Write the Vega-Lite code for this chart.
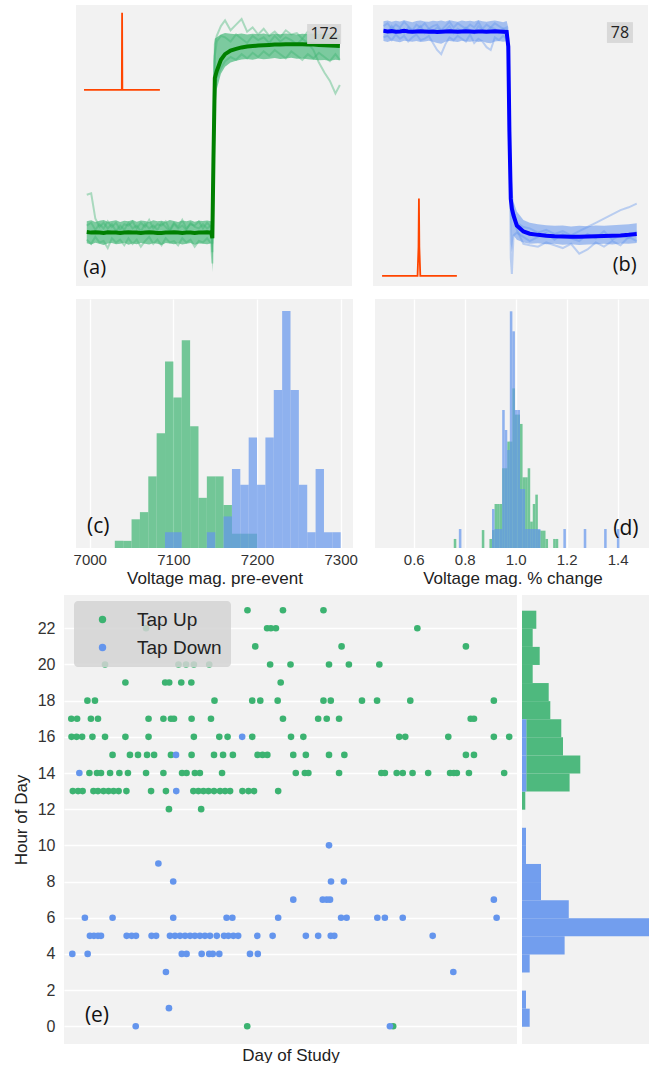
{
"$schema": "https://vega.github.io/schema/vega-lite/v6.json",
"background": "white",
"padding": {"left": 12, "top": 5, "right": 0, "bottom": 0},
"config": {
  "view": {"stroke": null, "fill": "#f2f2f2"},
  "font": "Liberation Sans",
  "axis": {"labelFont": "Liberation Sans", "titleFont": "Liberation Sans", "titleFontWeight": "normal", "labelColor": "#333333", "titleColor": "#222222", "gridColor": "#ffffff", "gridWidth": 1.3, "ticks": false, "domain": false}
},
"datasets": {
"a": [
{"x":3.9,"m":19.2,"lo":15.2,"hi":23.0,"t1":32.5,"t2":16.5,"t3":21.5},
{"x":5.5,"m":19.0,"lo":14.8,"hi":23.4,"t1":33.0,"t2":15.0,"t3":22.5},
{"x":7.0,"m":19.1,"lo":15.4,"hi":22.8,"t1":24.0,"t2":17.5,"t3":20.0},
{"x":8.5,"m":19.0,"lo":15.0,"hi":23.2,"t1":21.0,"t2":15.5,"t3":22.0},
{"x":10,"m":18.9,"lo":14.6,"hi":23.5,"t1":22.5,"t2":16.0,"t3":20.5},
{"x":11.5,"m":19.1,"lo":15.1,"hi":22.9,"t1":20.5,"t2":13.5,"t3":23.0},
{"x":13,"m":19.0,"lo":15.3,"hi":23.1,"t1":22.0,"t2":17.0,"t3":21.0},
{"x":14.5,"m":19.0,"lo":14.9,"hi":23.4,"t1":19.5,"t2":15.5,"t3":22.5},
{"x":16,"m":18.9,"lo":15.0,"hi":22.8,"t1":21.5,"t2":16.5,"t3":20.0},
{"x":17.5,"m":19.0,"lo":15.4,"hi":23.2,"t1":20.0,"t2":14.5,"t3":22.0},
{"x":19,"m":19.1,"lo":14.7,"hi":23.0,"t1":22.5,"t2":17.0,"t3":21.5},
{"x":20.5,"m":19.0,"lo":15.1,"hi":23.5,"t1":20.5,"t2":15.0,"t3":23.0},
{"x":22,"m":19.0,"lo":14.9,"hi":22.9,"t1":21.5,"t2":16.5,"t3":20.5},
{"x":23.5,"m":18.9,"lo":15.3,"hi":23.3,"t1":19.5,"t2":14.0,"t3":22.5},
{"x":25,"m":19.0,"lo":15.0,"hi":23.1,"t1":22.0,"t2":16.0,"t3":21.0},
{"x":26.5,"m":19.1,"lo":14.8,"hi":22.8,"t1":20.5,"t2":17.5,"t3":23.5},
{"x":28,"m":19.0,"lo":15.2,"hi":23.4,"t1":21.5,"t2":15.0,"t3":20.5},
{"x":29.5,"m":18.9,"lo":15.0,"hi":23.0,"t1":20.0,"t2":16.5,"t3":22.0},
{"x":31,"m":18.9,"lo":14.6,"hi":23.2,"t1":22.5,"t2":14.5,"t3":21.5},
{"x":32.5,"m":19.0,"lo":15.3,"hi":22.9,"t1":21.0,"t2":17.0,"t3":23.0},
{"x":34,"m":19.0,"lo":15.1,"hi":23.5,"t1":19.5,"t2":15.5,"t3":20.0},
{"x":35.5,"m":19.1,"lo":14.9,"hi":23.1,"t1":22.0,"t2":16.0,"t3":22.5},
{"x":37,"m":19.0,"lo":15.2,"hi":22.8,"t1":20.5,"t2":14.5,"t3":21.0},
{"x":38.5,"m":18.9,"lo":14.8,"hi":23.3,"t1":21.5,"t2":17.0,"t3":23.5},
{"x":40,"m":19.0,"lo":15.0,"hi":23.0,"t1":20.0,"t2":15.5,"t3":20.5},
{"x":41.5,"m":19.0,"lo":15.3,"hi":23.4,"t1":22.5,"t2":16.5,"t3":22.0},
{"x":43,"m":18.9,"lo":14.7,"hi":22.9,"t1":21.0,"t2":14.0,"t3":21.5},
{"x":44.5,"m":19.0,"lo":15.1,"hi":23.2,"t1":20.5,"t2":16.0,"t3":23.0},
{"x":46,"m":19.0,"lo":15.0,"hi":23.1,"t1":22.0,"t2":15.5,"t3":20.5},
{"x":47.5,"m":19.1,"lo":14.9,"hi":23.3,"t1":20.5,"t2":17.0,"t3":22.5},
{"x":49.0,"m":19.0,"lo":15.2,"hi":23.0,"t1":21.5,"t2":15.0,"t3":21.0},
{"x":49.4,"m":17.0,"lo":5.0,"hi":24.0,"t1":12.0,"t2":8.0,"t3":15.0},
{"x":49.8,"m":45.0,"lo":20.0,"hi":80.0,"t1":50.0,"t2":35.0,"t3":60.0},
{"x":50.3,"m":74.0,"lo":60.0,"hi":88.0,"t1":82.0,"t2":70.0,"t3":86.0},
{"x":51.0,"m":76.5,"lo":70.0,"hi":88.5,"t1":87.0,"t2":74.0,"t3":89.0},
{"x":52.5,"m":80.5,"lo":75.5,"hi":89.5,"t1":89.0,"t2":77.5,"t3":92.5},
{"x":54.0,"m":82.5,"lo":78.0,"hi":90.0,"t1":88.5,"t2":80.0,"t3":94.5},
{"x":56.0,"m":83.8,"lo":79.5,"hi":89.8,"t1":87.0,"t2":81.5,"t3":91.0},
{"x":58.0,"m":84.4,"lo":80.2,"hi":89.6,"t1":89.5,"t2":80.5,"t3":93.0},
{"x":60.0,"m":84.9,"lo":80.6,"hi":89.9,"t1":88.0,"t2":82.5,"t3":95.0},
{"x":62.0,"m":85.2,"lo":80.8,"hi":89.5,"t1":86.5,"t2":81.0,"t3":90.5},
{"x":64.0,"m":85.4,"lo":80.5,"hi":89.8,"t1":89.0,"t2":83.0,"t3":92.0},
{"x":66.0,"m":85.6,"lo":81.0,"hi":89.6,"t1":87.5,"t2":81.5,"t3":89.5},
{"x":68.0,"m":85.7,"lo":80.7,"hi":89.9,"t1":88.5,"t2":83.5,"t3":91.5},
{"x":70.0,"m":85.8,"lo":80.9,"hi":89.4,"t1":86.5,"t2":82.0,"t3":89.0},
{"x":72.0,"m":85.9,"lo":81.1,"hi":89.8,"t1":89.0,"t2":84.0,"t3":90.5},
{"x":74.0,"m":85.9,"lo":80.8,"hi":89.6,"t1":87.0,"t2":82.5,"t3":88.5},
{"x":76.0,"m":86.0,"lo":81.0,"hi":89.9,"t1":88.5,"t2":81.0,"t3":91.0},
{"x":78.0,"m":86.0,"lo":81.2,"hi":89.7,"t1":87.5,"t2":83.5,"t3":89.5},
{"x":80.0,"m":86.0,"lo":80.9,"hi":89.5,"t1":86.0,"t2":82.0,"t3":90.0},
{"x":82.0,"m":86.0,"lo":81.0,"hi":89.8,"t1":88.0,"t2":80.5,"t3":88.0},
{"x":84.0,"m":85.9,"lo":80.7,"hi":89.6,"t1":86.5,"t2":82.5,"t3":90.5},
{"x":86.0,"m":85.9,"lo":80.5,"hi":89.9,"t1":84.0,"t2":81.0,"t3":89.0},
{"x":88.0,"m":85.8,"lo":80.3,"hi":89.7,"t1":79.5,"t2":83.0,"t3":90.5},
{"x":90.0,"m":85.7,"lo":80.4,"hi":89.6,"t1":76.0,"t2":81.5,"t3":88.5},
{"x":92.0,"m":85.6,"lo":80.2,"hi":89.8,"t1":73.0,"t2":80.0,"t3":90.0},
{"x":94.0,"m":85.5,"lo":80.5,"hi":89.5,"t1":68.5,"t2":82.5,"t3":88.0},
{"x":95.6,"m":85.4,"lo":80.3,"hi":89.7,"t1":71.5,"t2":80.5,"t3":89.0}
],
"b": [
{"x":3.8,"m":90.8,"lo":87.2,"hi":94.2,"t1":92.5,"t2":88.5,"t3":91.0},
{"x":5.3,"m":90.6,"lo":86.8,"hi":94.5,"t1":93.5,"t2":89.0,"t3":90.0},
{"x":6.8,"m":90.7,"lo":87.4,"hi":94.0,"t1":91.5,"t2":87.5,"t3":92.5},
{"x":8.3,"m":90.5,"lo":87.0,"hi":94.4,"t1":93.0,"t2":89.5,"t3":90.5},
{"x":9.8,"m":90.6,"lo":86.7,"hi":94.1,"t1":92.0,"t2":88.0,"t3":91.5},
{"x":11.3,"m":90.8,"lo":87.3,"hi":94.6,"t1":94.0,"t2":89.0,"t3":90.0},
{"x":12.8,"m":90.6,"lo":87.1,"hi":94.2,"t1":92.5,"t2":87.0,"t3":92.0},
{"x":14.3,"m":90.5,"lo":86.9,"hi":93.9,"t1":91.0,"t2":88.5,"t3":90.5},
{"x":15.8,"m":90.6,"lo":87.2,"hi":94.3,"t1":93.0,"t2":89.5,"t3":91.0},
{"x":17.3,"m":90.7,"lo":86.8,"hi":94.5,"t1":92.0,"t2":87.5,"t3":92.5},
{"x":18.8,"m":90.6,"lo":87.0,"hi":94.1,"t1":93.5,"t2":88.0,"t3":90.0},
{"x":20.3,"m":90.5,"lo":87.3,"hi":94.0,"t1":91.5,"t2":89.0,"t3":91.5},
{"x":21.8,"m":90.6,"lo":86.9,"hi":94.4,"t1":92.5,"t2":86.5,"t3":90.5},
{"x":23.3,"m":90.4,"lo":86.5,"hi":94.2,"t1":93.0,"t2":84.0,"t3":92.0},
{"x":24.8,"m":90.5,"lo":86.2,"hi":94.5,"t1":91.0,"t2":82.5,"t3":90.5},
{"x":26.3,"m":90.6,"lo":86.9,"hi":94.1,"t1":92.5,"t2":86.0,"t3":91.0},
{"x":27.8,"m":90.7,"lo":87.2,"hi":94.6,"t1":94.0,"t2":88.5,"t3":92.5},
{"x":29.3,"m":90.6,"lo":87.0,"hi":94.3,"t1":92.0,"t2":87.5,"t3":90.0},
{"x":30.8,"m":90.5,"lo":86.8,"hi":94.0,"t1":93.5,"t2":89.0,"t3":91.5},
{"x":32.3,"m":90.6,"lo":87.3,"hi":94.5,"t1":92.5,"t2":88.0,"t3":90.5},
{"x":33.8,"m":90.7,"lo":87.0,"hi":94.2,"t1":91.5,"t2":87.0,"t3":92.0},
{"x":35.3,"m":90.6,"lo":86.9,"hi":94.4,"t1":93.0,"t2":89.5,"t3":91.0},
{"x":36.8,"m":90.5,"lo":87.2,"hi":94.1,"t1":92.0,"t2":86.5,"t3":90.0},
{"x":38.3,"m":90.6,"lo":86.8,"hi":94.6,"t1":94.0,"t2":88.0,"t3":92.5},
{"x":39.8,"m":90.6,"lo":87.1,"hi":94.2,"t1":91.5,"t2":87.0,"t3":91.0},
{"x":41.3,"m":90.5,"lo":86.6,"hi":94.0,"t1":93.0,"t2":85.0,"t3":90.5},
{"x":42.8,"m":90.6,"lo":86.4,"hi":94.3,"t1":92.0,"t2":84.0,"t3":92.0},
{"x":44.3,"m":90.7,"lo":87.0,"hi":94.5,"t1":93.5,"t2":88.5,"t3":91.5},
{"x":45.8,"m":90.6,"lo":87.2,"hi":94.2,"t1":92.5,"t2":87.5,"t3":90.0},
{"x":47.3,"m":90.5,"lo":86.9,"hi":93.9,"t1":91.5,"t2":89.0,"t3":91.5},
{"x":48.6,"m":90.4,"lo":87.1,"hi":94.3,"t1":92.0,"t2":88.0,"t3":90.5},
{"x":49.2,"m":85.2,"lo":80.0,"hi":92.0,"t1":88.0,"t2":82.0,"t3":86.0},
{"x":49.6,"m":55.0,"lo":40.0,"hi":70.0,"t1":60.0,"t2":50.0,"t3":58.0},
{"x":50.1,"m":31.0,"lo":15.0,"hi":45.0,"t1":10.0,"t2":30.0,"t3":35.0},
{"x":50.5,"m":27.5,"lo":12.0,"hi":38.0,"t1":4.3,"t2":26.0,"t3":30.0},
{"x":51.1,"m":25.1,"lo":18.0,"hi":30.0,"t1":18.0,"t2":24.0,"t3":27.0},
{"x":52.3,"m":21.5,"lo":16.5,"hi":26.5,"t1":19.0,"t2":22.5,"t3":20.0},
{"x":54.7,"m":19.4,"lo":15.5,"hi":23.5,"t1":17.5,"t2":21.0,"t3":15.0},
{"x":57.0,"m":18.6,"lo":15.0,"hi":22.5,"t1":16.0,"t2":20.5,"t3":14.5},
{"x":60.0,"m":18.2,"lo":15.2,"hi":22.0,"t1":17.5,"t2":19.0,"t3":14.0},
{"x":63.0,"m":17.9,"lo":14.9,"hi":21.6,"t1":19.0,"t2":20.0,"t3":15.5},
{"x":66.0,"m":17.7,"lo":15.0,"hi":21.4,"t1":16.5,"t2":18.5,"t3":14.5},
{"x":69.0,"m":17.6,"lo":14.7,"hi":21.5,"t1":18.5,"t2":19.5,"t3":13.5},
{"x":72.0,"m":17.5,"lo":14.9,"hi":21.2,"t1":17.0,"t2":18.0,"t3":15.0},
{"x":75.0,"m":17.5,"lo":14.6,"hi":21.4,"t1":16.0,"t2":19.5,"t3":11.5},
{"x":78.0,"m":17.6,"lo":14.8,"hi":21.3,"t1":18.5,"t2":21.0,"t3":13.0},
{"x":81.0,"m":17.7,"lo":14.9,"hi":21.5,"t1":17.0,"t2":22.5,"t3":15.5},
{"x":84.0,"m":17.8,"lo":15.0,"hi":21.4,"t1":19.5,"t2":24.0,"t3":14.0},
{"x":87.0,"m":17.9,"lo":14.8,"hi":21.6,"t1":16.5,"t2":25.5,"t3":16.0},
{"x":90.0,"m":18.0,"lo":15.1,"hi":21.8,"t1":18.0,"t2":27.0,"t3":14.5},
{"x":93.0,"m":18.2,"lo":15.0,"hi":22.0,"t1":17.0,"t2":28.0,"t3":17.5},
{"x":95.9,"m":18.5,"lo":15.3,"hi":22.3,"t1":19.5,"t2":29.3,"t3":16.0}
],
"pa": [{"x":2.9,"y":69.8},{"x":16.6,"y":69.8},{"x":16.7,"y":97.2},{"x":16.8,"y":69.8},{"x":30.4,"y":69.8}],
"pb": [{"x":3.3,"y":3.6},{"x":16.2,"y":3.6},{"x":16.55,"y":14},{"x":16.7,"y":31.1},{"x":16.85,"y":14},{"x":17.2,"y":3.6},{"x":30.5,"y":3.6}],
"c": [
{"lo":7030,"hi":7040,"pct":0.58,"tap":"Tap Up"},{"lo":7040,"hi":7050,"pct":0.58,"tap":"Tap Up"},{"lo":7050,"hi":7060,"pct":2.33,"tap":"Tap Up"},{"lo":7060,"hi":7070,"pct":2.91,"tap":"Tap Up"},{"lo":7070,"hi":7080,"pct":5.81,"tap":"Tap Up"},{"lo":7080,"hi":7090,"pct":9.30,"tap":"Tap Up"},{"lo":7090,"hi":7100,"pct":15.12,"tap":"Tap Up"},{"lo":7100,"hi":7110,"pct":12.21,"tap":"Tap Up"},{"lo":7110,"hi":7120,"pct":16.86,"tap":"Tap Up"},{"lo":7120,"hi":7130,"pct":9.88,"tap":"Tap Up"},{"lo":7130,"hi":7140,"pct":4.07,"tap":"Tap Up"},{"lo":7140,"hi":7150,"pct":5.81,"tap":"Tap Up"},{"lo":7150,"hi":7160,"pct":5.81,"tap":"Tap Up"},{"lo":7160,"hi":7170,"pct":3.49,"tap":"Tap Up"},{"lo":7170,"hi":7180,"pct":1.16,"tap":"Tap Up"},{"lo":7180,"hi":7190,"pct":1.16,"tap":"Tap Up"},{"lo":7190,"hi":7200,"pct":1.16,"tap":"Tap Up"},
{"lo":7090,"hi":7100,"pct":1.28,"tap":"Tap Down"},{"lo":7100,"hi":7110,"pct":1.28,"tap":"Tap Down"},{"lo":7140,"hi":7150,"pct":1.28,"tap":"Tap Down"},{"lo":7160,"hi":7170,"pct":2.56,"tap":"Tap Down"},{"lo":7170,"hi":7180,"pct":6.41,"tap":"Tap Down"},{"lo":7180,"hi":7190,"pct":5.13,"tap":"Tap Down"},{"lo":7190,"hi":7200,"pct":8.97,"tap":"Tap Down"},{"lo":7200,"hi":7210,"pct":5.13,"tap":"Tap Down"},{"lo":7210,"hi":7220,"pct":8.97,"tap":"Tap Down"},{"lo":7220,"hi":7230,"pct":12.82,"tap":"Tap Down"},{"lo":7230,"hi":7240,"pct":19.23,"tap":"Tap Down"},{"lo":7240,"hi":7250,"pct":12.82,"tap":"Tap Down"},{"lo":7250,"hi":7260,"pct":5.13,"tap":"Tap Down"},{"lo":7260,"hi":7270,"pct":1.28,"tap":"Tap Down"},{"lo":7270,"hi":7280,"pct":6.41,"tap":"Tap Down"},{"lo":7280,"hi":7290,"pct":1.28,"tap":"Tap Down"},{"lo":7290,"hi":7300,"pct":1.28,"tap":"Tap Down"}
],
"d": [
{"lo":0.757,"hi":0.767,"pct":0.61,"tap":"Tap Up"},{"lo":0.867,"hi":0.877,"pct":1.21,"tap":"Tap Up"},{"lo":0.897,"hi":0.907,"pct":0.61,"tap":"Tap Up"},{"lo":0.907,"hi":0.917,"pct":1.21,"tap":"Tap Up"},{"lo":0.917,"hi":0.927,"pct":2.97,"tap":"Tap Up"},{"lo":0.927,"hi":0.937,"pct":2.97,"tap":"Tap Up"},{"lo":0.937,"hi":0.947,"pct":2.97,"tap":"Tap Up"},{"lo":0.947,"hi":0.957,"pct":5.38,"tap":"Tap Up"},{"lo":0.957,"hi":0.967,"pct":5.38,"tap":"Tap Up"},{"lo":0.967,"hi":0.977,"pct":7.18,"tap":"Tap Up"},{"lo":0.977,"hi":0.987,"pct":7.18,"tap":"Tap Up"},{"lo":0.987,"hi":0.997,"pct":10.77,"tap":"Tap Up"},{"lo":0.997,"hi":1.007,"pct":9.0,"tap":"Tap Up"},{"lo":1.007,"hi":1.017,"pct":9.0,"tap":"Tap Up"},{"lo":1.017,"hi":1.027,"pct":8.37,"tap":"Tap Up"},{"lo":1.027,"hi":1.037,"pct":4.77,"tap":"Tap Up"},{"lo":1.037,"hi":1.047,"pct":4.77,"tap":"Tap Up"},{"lo":1.047,"hi":1.057,"pct":5.38,"tap":"Tap Up"},{"lo":1.057,"hi":1.067,"pct":1.78,"tap":"Tap Up"},{"lo":1.067,"hi":1.077,"pct":2.97,"tap":"Tap Up"},{"lo":1.077,"hi":1.087,"pct":3.6,"tap":"Tap Up"},{"lo":1.087,"hi":1.097,"pct":1.21,"tap":"Tap Up"},{"lo":1.097,"hi":1.107,"pct":1.17,"tap":"Tap Up"},{"lo":1.107,"hi":1.117,"pct":1.17,"tap":"Tap Up"},{"lo":1.117,"hi":1.127,"pct":0.61,"tap":"Tap Up"},{"lo":1.147,"hi":1.157,"pct":0.61,"tap":"Tap Up"},{"lo":1.157,"hi":1.167,"pct":0.61,"tap":"Tap Up"},
{"lo":0.777,"hi":0.787,"pct":1.28,"tap":"Tap Down"},{"lo":0.907,"hi":0.917,"pct":2.63,"tap":"Tap Down"},{"lo":0.917,"hi":0.927,"pct":1.28,"tap":"Tap Down"},{"lo":0.927,"hi":0.937,"pct":1.28,"tap":"Tap Down"},{"lo":0.937,"hi":0.947,"pct":1.28,"tap":"Tap Down"},{"lo":0.947,"hi":0.957,"pct":9.31,"tap":"Tap Down"},{"lo":0.957,"hi":0.967,"pct":7.96,"tap":"Tap Down"},{"lo":0.967,"hi":0.977,"pct":6.61,"tap":"Tap Down"},{"lo":0.977,"hi":0.987,"pct":15.97,"tap":"Tap Down"},{"lo":0.987,"hi":0.997,"pct":14.62,"tap":"Tap Down"},{"lo":0.997,"hi":1.007,"pct":9.31,"tap":"Tap Down"},{"lo":1.007,"hi":1.017,"pct":9.31,"tap":"Tap Down"},{"lo":1.017,"hi":1.027,"pct":3.98,"tap":"Tap Down"},{"lo":1.027,"hi":1.037,"pct":3.98,"tap":"Tap Down"},{"lo":1.037,"hi":1.047,"pct":1.28,"tap":"Tap Down"},{"lo":1.047,"hi":1.057,"pct":1.28,"tap":"Tap Down"},{"lo":1.057,"hi":1.067,"pct":1.28,"tap":"Tap Down"},{"lo":1.067,"hi":1.077,"pct":1.28,"tap":"Tap Down"},{"lo":1.077,"hi":1.087,"pct":1.28,"tap":"Tap Down"},{"lo":1.087,"hi":1.097,"pct":1.28,"tap":"Tap Down"},{"lo":1.187,"hi":1.197,"pct":1.28,"tap":"Tap Down"},{"lo":1.267,"hi":1.277,"pct":1.28,"tap":"Tap Down"},{"lo":1.347,"hi":1.357,"pct":1.28,"tap":"Tap Down"},{"lo":1.397,"hi":1.407,"pct":1.28,"tap":"Tap Down"}
],
"sc": [
{"day":72.9,"hour":23,"tap":"Tap Up"},{"day":87.0,"hour":23,"tap":"Tap Up"},{"day":103.1,"hour":23,"tap":"Tap Up"},
{"day":32.6,"hour":22,"tap":"Tap Up"},{"day":80.7,"hour":22,"tap":"Tap Up"},{"day":82.2,"hour":22,"tap":"Tap Up"},{"day":84.2,"hour":22,"tap":"Tap Up"},{"day":140.4,"hour":22,"tap":"Tap Up"},
{"day":76.0,"hour":21,"tap":"Tap Up"},{"day":110.3,"hour":21,"tap":"Tap Up"},{"day":159.7,"hour":21,"tap":"Tap Up"},
{"day":16.3,"hour":20,"tap":"Tap Up"},{"day":45.5,"hour":20,"tap":"Tap Up"},{"day":48.5,"hour":20,"tap":"Tap Up"},{"day":51.6,"hour":20,"tap":"Tap Up"},{"day":57.7,"hour":20,"tap":"Tap Up"},{"day":81.9,"hour":20,"tap":"Tap Up"},{"day":90.0,"hour":20,"tap":"Tap Up"},{"day":105.3,"hour":20,"tap":"Tap Up"},{"day":113.2,"hour":20,"tap":"Tap Up"},{"day":125.3,"hour":20,"tap":"Tap Up"},
{"day":24.4,"hour":19,"tap":"Tap Up"},{"day":40.2,"hour":19,"tap":"Tap Up"},{"day":41.8,"hour":19,"tap":"Tap Up"},{"day":46.6,"hour":19,"tap":"Tap Up"},{"day":50.6,"hour":19,"tap":"Tap Up"},{"day":86.1,"hour":19,"tap":"Tap Up"},
{"day":9.3,"hour":18,"tap":"Tap Up"},{"day":12.3,"hour":18,"tap":"Tap Up"},{"day":59.8,"hour":18,"tap":"Tap Up"},{"day":74.8,"hour":18,"tap":"Tap Up"},{"day":78.0,"hour":18,"tap":"Tap Up"},{"day":84.9,"hour":18,"tap":"Tap Up"},{"day":103.1,"hour":18,"tap":"Tap Up"},{"day":106.0,"hour":18,"tap":"Tap Up"},{"day":118.4,"hour":18,"tap":"Tap Up"},{"day":124.4,"hour":18,"tap":"Tap Up"},{"day":137.6,"hour":18,"tap":"Tap Up"},{"day":170.8,"hour":18,"tap":"Tap Up"},
{"day":2.9,"hour":17,"tap":"Tap Up"},{"day":5.2,"hour":17,"tap":"Tap Up"},{"day":10.7,"hour":17,"tap":"Tap Up"},{"day":13.5,"hour":17,"tap":"Tap Up"},{"day":33.6,"hour":17,"tap":"Tap Up"},{"day":39.5,"hour":17,"tap":"Tap Up"},{"day":42.5,"hour":17,"tap":"Tap Up"},{"day":43.7,"hour":17,"tap":"Tap Up"},{"day":50.7,"hour":17,"tap":"Tap Up"},{"day":58.4,"hour":17,"tap":"Tap Up"},{"day":87.0,"hour":17,"tap":"Tap Up"},{"day":101.0,"hour":17,"tap":"Tap Up"},{"day":104.4,"hour":17,"tap":"Tap Up"},{"day":109.3,"hour":17,"tap":"Tap Up"},{"day":161.6,"hour":17,"tap":"Tap Up"},{"day":162.9,"hour":17,"tap":"Tap Up"},
{"day":3.0,"hour":16,"tap":"Tap Up"},{"day":5.0,"hour":16,"tap":"Tap Up"},{"day":7.2,"hour":16,"tap":"Tap Up"},{"day":11.3,"hour":16,"tap":"Tap Up"},{"day":16.3,"hour":16,"tap":"Tap Up"},{"day":24.4,"hour":16,"tap":"Tap Up"},{"day":33.6,"hour":16,"tap":"Tap Up"},{"day":51.6,"hour":16,"tap":"Tap Up"},{"day":61.7,"hour":16,"tap":"Tap Up"},{"day":65.0,"hour":16,"tap":"Tap Up"},{"day":74.8,"hour":16,"tap":"Tap Up"},{"day":90.2,"hour":16,"tap":"Tap Up"},{"day":95.1,"hour":16,"tap":"Tap Up"},{"day":133.2,"hour":16,"tap":"Tap Up"},{"day":135.6,"hour":16,"tap":"Tap Up"},{"day":152.7,"hour":16,"tap":"Tap Up"},{"day":170.8,"hour":16,"tap":"Tap Up"},{"day":176.9,"hour":16,"tap":"Tap Up"},
{"day":19.3,"hour":15,"tap":"Tap Up"},{"day":26.2,"hour":15,"tap":"Tap Up"},{"day":29.4,"hour":15,"tap":"Tap Up"},{"day":33.0,"hour":15,"tap":"Tap Up"},{"day":35.8,"hour":15,"tap":"Tap Up"},{"day":42.5,"hour":15,"tap":"Tap Up"},{"day":50.7,"hour":15,"tap":"Tap Up"},{"day":59.6,"hour":15,"tap":"Tap Up"},{"day":63.2,"hour":15,"tap":"Tap Up"},{"day":67.1,"hour":15,"tap":"Tap Up"},{"day":76.9,"hour":15,"tap":"Tap Up"},{"day":78.9,"hour":15,"tap":"Tap Up"},{"day":80.8,"hour":15,"tap":"Tap Up"},{"day":91.1,"hour":15,"tap":"Tap Up"},{"day":96.1,"hour":15,"tap":"Tap Up"},{"day":105.3,"hour":15,"tap":"Tap Up"},{"day":111.4,"hour":15,"tap":"Tap Up"},{"day":159.7,"hour":15,"tap":"Tap Up"},{"day":162.9,"hour":15,"tap":"Tap Up"},
{"day":10.1,"hour":14,"tap":"Tap Up"},{"day":13.1,"hour":14,"tap":"Tap Up"},{"day":14.7,"hour":14,"tap":"Tap Up"},{"day":18.3,"hour":14,"tap":"Tap Up"},{"day":22.0,"hour":14,"tap":"Tap Up"},{"day":25.4,"hour":14,"tap":"Tap Up"},{"day":32.6,"hour":14,"tap":"Tap Up"},{"day":39.5,"hour":14,"tap":"Tap Up"},{"day":46.9,"hour":14,"tap":"Tap Up"},{"day":48.7,"hour":14,"tap":"Tap Up"},{"day":52.0,"hour":14,"tap":"Tap Up"},{"day":54.0,"hour":14,"tap":"Tap Up"},{"day":62.8,"hour":14,"tap":"Tap Up"},{"day":92.1,"hour":14,"tap":"Tap Up"},{"day":95.7,"hour":14,"tap":"Tap Up"},{"day":97.1,"hour":14,"tap":"Tap Up"},{"day":109.3,"hour":14,"tap":"Tap Up"},{"day":126.1,"hour":14,"tap":"Tap Up"},{"day":127.5,"hour":14,"tap":"Tap Up"},{"day":132.2,"hour":14,"tap":"Tap Up"},{"day":134.6,"hour":14,"tap":"Tap Up"},{"day":138.5,"hour":14,"tap":"Tap Up"},{"day":144.7,"hour":14,"tap":"Tap Up"},{"day":153.4,"hour":14,"tap":"Tap Up"},{"day":154.9,"hour":14,"tap":"Tap Up"},{"day":156.1,"hour":14,"tap":"Tap Up"},{"day":160.9,"hour":14,"tap":"Tap Up"},{"day":174.9,"hour":14,"tap":"Tap Up"},
{"day":3.5,"hour":13,"tap":"Tap Up"},{"day":5.6,"hour":13,"tap":"Tap Up"},{"day":7.4,"hour":13,"tap":"Tap Up"},{"day":11.7,"hour":13,"tap":"Tap Up"},{"day":13.5,"hour":13,"tap":"Tap Up"},{"day":15.7,"hour":13,"tap":"Tap Up"},{"day":17.7,"hour":13,"tap":"Tap Up"},{"day":19.7,"hour":13,"tap":"Tap Up"},{"day":21.7,"hour":13,"tap":"Tap Up"},{"day":24.8,"hour":13,"tap":"Tap Up"},{"day":34.6,"hour":13,"tap":"Tap Up"},{"day":40.5,"hour":13,"tap":"Tap Up"},{"day":51.4,"hour":13,"tap":"Tap Up"},{"day":53.4,"hour":13,"tap":"Tap Up"},{"day":55.4,"hour":13,"tap":"Tap Up"},{"day":57.4,"hour":13,"tap":"Tap Up"},{"day":59.6,"hour":13,"tap":"Tap Up"},{"day":62.0,"hour":13,"tap":"Tap Up"},{"day":64.0,"hour":13,"tap":"Tap Up"},{"day":66.0,"hour":13,"tap":"Tap Up"},{"day":70.9,"hour":13,"tap":"Tap Up"},{"day":73.3,"hour":13,"tap":"Tap Up"},{"day":75.5,"hour":13,"tap":"Tap Up"},{"day":85.1,"hour":13,"tap":"Tap Up"},
{"day":41.7,"hour":12,"tap":"Tap Up"},{"day":54.5,"hour":12,"tap":"Tap Up"},
{"day":72.8,"hour":0,"tap":"Tap Up"},{"day":130.8,"hour":0,"tap":"Tap Up"},
{"day":70.8,"hour":16,"tap":"Tap Down"},{"day":44.5,"hour":15,"tap":"Tap Down"},{"day":6.1,"hour":14,"tap":"Tap Down"},{"day":44.6,"hour":13,"tap":"Tap Down"},
{"day":105.3,"hour":10,"tap":"Tap Down"},{"day":37.5,"hour":9,"tap":"Tap Down"},
{"day":43.4,"hour":8,"tap":"Tap Down"},{"day":106.1,"hour":8,"tap":"Tap Down"},{"day":111.2,"hour":8,"tap":"Tap Down"},
{"day":91.1,"hour":7,"tap":"Tap Down"},{"day":102.8,"hour":7,"tap":"Tap Down"},{"day":104.4,"hour":7,"tap":"Tap Down"},{"day":105.7,"hour":7,"tap":"Tap Down"},{"day":170.8,"hour":7,"tap":"Tap Down"},
{"day":8.3,"hour":6,"tap":"Tap Down"},{"day":19.3,"hour":6,"tap":"Tap Down"},{"day":43.4,"hour":6,"tap":"Tap Down"},{"day":64.6,"hour":6,"tap":"Tap Down"},{"day":66.9,"hour":6,"tap":"Tap Down"},{"day":85.1,"hour":6,"tap":"Tap Down"},{"day":110.1,"hour":6,"tap":"Tap Down"},{"day":112.3,"hour":6,"tap":"Tap Down"},{"day":124.5,"hour":6,"tap":"Tap Down"},{"day":127.5,"hour":6,"tap":"Tap Down"},{"day":134.6,"hour":6,"tap":"Tap Down"},{"day":171.9,"hour":6,"tap":"Tap Down"},
{"day":10.3,"hour":5,"tap":"Tap Down"},{"day":11.9,"hour":5,"tap":"Tap Down"},{"day":13.5,"hour":5,"tap":"Tap Down"},{"day":14.7,"hour":5,"tap":"Tap Down"},{"day":24.9,"hour":5,"tap":"Tap Down"},{"day":26.9,"hour":5,"tap":"Tap Down"},{"day":28.6,"hour":5,"tap":"Tap Down"},{"day":34.8,"hour":5,"tap":"Tap Down"},{"day":36.6,"hour":5,"tap":"Tap Down"},{"day":42.1,"hour":5,"tap":"Tap Down"},{"day":44.1,"hour":5,"tap":"Tap Down"},{"day":46.1,"hour":5,"tap":"Tap Down"},{"day":48.1,"hour":5,"tap":"Tap Down"},{"day":50.1,"hour":5,"tap":"Tap Down"},{"day":52.0,"hour":5,"tap":"Tap Down"},{"day":54.0,"hour":5,"tap":"Tap Down"},{"day":56.0,"hour":5,"tap":"Tap Down"},{"day":58.0,"hour":5,"tap":"Tap Down"},{"day":60.7,"hour":5,"tap":"Tap Down"},{"day":63.6,"hour":5,"tap":"Tap Down"},{"day":65.3,"hour":5,"tap":"Tap Down"},{"day":67.3,"hour":5,"tap":"Tap Down"},{"day":69.2,"hour":5,"tap":"Tap Down"},{"day":76.8,"hour":5,"tap":"Tap Down"},{"day":82.9,"hour":5,"tap":"Tap Down"},{"day":96.1,"hour":5,"tap":"Tap Down"},{"day":101.0,"hour":5,"tap":"Tap Down"},{"day":106.0,"hour":5,"tap":"Tap Down"},{"day":107.4,"hour":5,"tap":"Tap Down"},{"day":146.5,"hour":5,"tap":"Tap Down"},
{"day":3.3,"hour":4,"tap":"Tap Down"},{"day":9.4,"hour":4,"tap":"Tap Down"},{"day":46.8,"hour":4,"tap":"Tap Down"},{"day":48.7,"hour":4,"tap":"Tap Down"},{"day":54.7,"hour":4,"tap":"Tap Down"},{"day":57.7,"hour":4,"tap":"Tap Down"},{"day":59.1,"hour":4,"tap":"Tap Down"},{"day":61.7,"hour":4,"tap":"Tap Down"},{"day":73.9,"hour":4,"tap":"Tap Down"},{"day":77.0,"hour":4,"tap":"Tap Down"},
{"day":40.5,"hour":3,"tap":"Tap Down"},{"day":154.7,"hour":3,"tap":"Tap Down"},{"day":41.7,"hour":1,"tap":"Tap Down"},
{"day":28.5,"hour":0,"tap":"Tap Down"},{"day":129.5,"hour":0,"tap":"Tap Down"}
],
"mg": [
{"lo":22,"hi":23,"pct":4.83,"tap":"Tap Up"},{"lo":21,"hi":22,"pct":3.61,"tap":"Tap Up"},{"lo":20,"hi":21,"pct":5.98,"tap":"Tap Up"},{"lo":19,"hi":20,"pct":3.61,"tap":"Tap Up"},{"lo":18,"hi":19,"pct":9.02,"tap":"Tap Up"},{"lo":17,"hi":18,"pct":9.56,"tap":"Tap Up"},{"lo":16,"hi":17,"pct":11.82,"tap":"Tap Up"},{"lo":15,"hi":16,"pct":12.4,"tap":"Tap Up"},{"lo":14,"hi":15,"pct":18.24,"tap":"Tap Up"},{"lo":13,"hi":14,"pct":14.63,"tap":"Tap Up"},{"lo":12,"hi":13,"pct":1.11,"tap":"Tap Up"},
{"lo":16,"hi":17,"pct":1.45,"tap":"Tap Down"},{"lo":15,"hi":16,"pct":1.45,"tap":"Tap Down"},{"lo":14,"hi":15,"pct":1.45,"tap":"Tap Down"},{"lo":13,"hi":14,"pct":1.45,"tap":"Tap Down"},{"lo":10,"hi":11,"pct":1.35,"tap":"Tap Down"},{"lo":9,"hi":10,"pct":1.35,"tap":"Tap Down"},{"lo":8,"hi":9,"pct":6.41,"tap":"Tap Down"},{"lo":7,"hi":8,"pct":6.41,"tap":"Tap Down"},{"lo":6,"hi":7,"pct":15.8,"tap":"Tap Down"},{"lo":5,"hi":6,"pct":46,"tap":"Tap Down"},{"lo":4,"hi":5,"pct":14.4,"tap":"Tap Down"},{"lo":3,"hi":4,"pct":2.6,"tap":"Tap Down"},{"lo":1,"hi":2,"pct":1.35,"tap":"Tap Down"},{"lo":0,"hi":1,"pct":2.6,"tap":"Tap Down"}
]
},
"resolve": {"scale": {"color": "independent"}, "legend": {"color": "independent"}},
"columns": 1,
"align": "none",
"spacing": 13,
"concat": [
{
 "spacing": 0,
 "hconcat": [
  {"width": 12, "height": 10, "view": {"fill": null, "stroke": null}, "data": {"values": []}, "mark": "point"},
  {
 "hconcat": [
  {
   "width": 276, "height": 281,
   "layer": [
    {"data": {"name": "a"}, "mark": {"type": "area", "color": "#3cb371", "opacity": 0.65},
     "encoding": {"x": {"field": "x", "type": "quantitative", "scale": {"domain": [0, 100], "nice": false, "zero": false}, "axis": null},
                  "y": {"field": "lo", "type": "quantitative", "scale": {"domain": [0, 100], "nice": false, "zero": false}, "axis": null},
                  "y2": {"field": "hi"}}},
    {"data": {"name": "a"}, "transform": [{"fold": ["t1", "t2", "t3"], "as": ["trace", "v"]}],
     "mark": {"type": "line", "color": "#3cb371", "opacity": 0.4, "strokeWidth": 2},
     "encoding": {"x": {"field": "x", "type": "quantitative", "scale": {"domain": [0, 100], "nice": false, "zero": false}, "axis": null},
                  "y": {"field": "v", "type": "quantitative", "scale": {"domain": [0, 100], "nice": false, "zero": false}, "axis": null},
                  "detail": {"field": "trace", "type": "nominal"}}},
    {"data": {"name": "a"}, "mark": {"type": "line", "color": "#008000", "strokeWidth": 4},
     "encoding": {"x": {"field": "x", "type": "quantitative", "scale": {"domain": [0, 100], "nice": false, "zero": false}, "axis": null},
                  "y": {"field": "m", "type": "quantitative", "scale": {"domain": [0, 100], "nice": false, "zero": false}, "axis": null}}},
    {"data": {"name": "pa"}, "mark": {"type": "line", "color": "#ff4500", "strokeWidth": 1.8},
     "encoding": {"x": {"field": "x", "type": "quantitative", "scale": {"domain": [0, 100], "nice": false, "zero": false}, "axis": null},
                  "y": {"field": "y", "type": "quantitative", "scale": {"domain": [0, 100], "nice": false, "zero": false}, "axis": null}}},
    {"data": {"values": [{"x": 89.9, "y": 89.7, "label": "172"}]},
     "mark": {"type": "point", "filled": true, "shape": "M-1,-0.59H1V0.59H-1Z", "size": 1156, "color": "#d6d6d6", "opacity": 0.9, "strokeWidth": 0},
     "encoding": {"x": {"field": "x", "type": "quantitative", "scale": {"domain": [0, 100], "nice": false, "zero": false}, "axis": null},
                  "y": {"field": "y", "type": "quantitative", "scale": {"domain": [0, 100], "nice": false, "zero": false}, "axis": null}}},
    {"data": {"values": [{"x": 89.9, "y": 89.7, "label": "172"}]},
     "mark": {"type": "text", "font": "Open Sans", "fontSize": 16, "color": "#222222", "align": "center", "baseline": "middle"},
     "encoding": {"x": {"field": "x", "type": "quantitative", "scale": {"domain": [0, 100], "nice": false, "zero": false}, "axis": null},
                  "y": {"field": "y", "type": "quantitative", "scale": {"domain": [0, 100], "nice": false, "zero": false}, "axis": null},
                  "text": {"field": "label"}}},
    {"data": {"values": [{"x": 2.6, "y": 6.5, "label": "(a)"}]},
     "mark": {"type": "text", "font": "Open Sans", "fontSize": 20, "color": "#111111", "align": "left", "baseline": "middle"},
     "encoding": {"x": {"field": "x", "type": "quantitative", "scale": {"domain": [0, 100], "nice": false, "zero": false}, "axis": null},
                  "y": {"field": "y", "type": "quantitative", "scale": {"domain": [0, 100], "nice": false, "zero": false}, "axis": null},
                  "text": {"field": "label"}}}
   ]
  },
  {
   "width": 275, "height": 281,
   "layer": [
    {"data": {"name": "b"}, "mark": {"type": "area", "color": "#6495ed", "opacity": 0.55},
     "encoding": {"x": {"field": "x", "type": "quantitative", "scale": {"domain": [0, 100], "nice": false, "zero": false}, "axis": null},
                  "y": {"field": "lo", "type": "quantitative", "scale": {"domain": [0, 100], "nice": false, "zero": false}, "axis": null},
                  "y2": {"field": "hi"}}},
    {"data": {"name": "b"}, "transform": [{"fold": ["t1", "t2", "t3"], "as": ["trace", "v"]}],
     "mark": {"type": "line", "color": "#6495ed", "opacity": 0.4, "strokeWidth": 2},
     "encoding": {"x": {"field": "x", "type": "quantitative", "scale": {"domain": [0, 100], "nice": false, "zero": false}, "axis": null},
                  "y": {"field": "v", "type": "quantitative", "scale": {"domain": [0, 100], "nice": false, "zero": false}, "axis": null},
                  "detail": {"field": "trace", "type": "nominal"}}},
    {"data": {"name": "b"}, "mark": {"type": "line", "color": "#0000ff", "strokeWidth": 4},
     "encoding": {"x": {"field": "x", "type": "quantitative", "scale": {"domain": [0, 100], "nice": false, "zero": false}, "axis": null},
                  "y": {"field": "m", "type": "quantitative", "scale": {"domain": [0, 100], "nice": false, "zero": false}, "axis": null}}},
    {"data": {"name": "pb"}, "mark": {"type": "line", "color": "#ff4500", "strokeWidth": 1.8},
     "encoding": {"x": {"field": "x", "type": "quantitative", "scale": {"domain": [0, 100], "nice": false, "zero": false}, "axis": null},
                  "y": {"field": "y", "type": "quantitative", "scale": {"domain": [0, 100], "nice": false, "zero": false}, "axis": null}}},
    {"data": {"values": [{"x": 89.8, "y": 90.2, "label": "78"}]},
     "mark": {"type": "point", "filled": true, "shape": "M-1,-0.8H1V0.8H-1Z", "size": 676, "color": "#d6d6d6", "opacity": 0.9, "strokeWidth": 0},
     "encoding": {"x": {"field": "x", "type": "quantitative", "scale": {"domain": [0, 100], "nice": false, "zero": false}, "axis": null},
                  "y": {"field": "y", "type": "quantitative", "scale": {"domain": [0, 100], "nice": false, "zero": false}, "axis": null}}},
    {"data": {"values": [{"x": 89.8, "y": 90.2, "label": "78"}]},
     "mark": {"type": "text", "font": "Open Sans", "fontSize": 16, "color": "#222222", "align": "center", "baseline": "middle"},
     "encoding": {"x": {"field": "x", "type": "quantitative", "scale": {"domain": [0, 100], "nice": false, "zero": false}, "axis": null},
                  "y": {"field": "y", "type": "quantitative", "scale": {"domain": [0, 100], "nice": false, "zero": false}, "axis": null},
                  "text": {"field": "label"}}},
    {"data": {"values": [{"x": 95.9, "y": 7.3, "label": "(b)"}]},
     "mark": {"type": "text", "font": "Open Sans", "fontSize": 20, "color": "#111111", "align": "right", "baseline": "middle"},
     "encoding": {"x": {"field": "x", "type": "quantitative", "scale": {"domain": [0, 100], "nice": false, "zero": false}, "axis": null},
                  "y": {"field": "y", "type": "quantitative", "scale": {"domain": [0, 100], "nice": false, "zero": false}, "axis": null},
                  "text": {"field": "label"}}}
   ]
  }
 ],
 "spacing": 21
  }
 ]
},
{
 "columns": 1,
 "align": "none",
 "spacing": 9,
 "resolve": {"scale": {"color": "independent"}, "legend": {"color": "independent"}},
 "concat": [
  {
   "spacing": 0,
   "hconcat": [
    {"width": 9, "height": 10, "view": {"fill": null, "stroke": null}, "data": {"values": []}, "mark": "point"},
    {
   "hconcat": [
    {
     "width": 277, "height": 249,
     "layer": [
      {"data": {"name": "c"}, "transform": [{"filter": "datum.tap == 'Tap Up'"}],
       "mark": {"type": "bar", "color": "#3cb371", "opacity": 0.7},
       "encoding": {"x": {"field": "lo", "type": "quantitative", "scale": {"domain": [6983.6, 7314.7], "nice": false, "zero": false}, "axis": {"values": [7000, 7100, 7200, 7300], "format": "d", "labelFontSize": 15, "labelPadding": 4, "grid": true, "title": "Voltage mag. pre-event", "titleFontSize": 17, "titlePadding": 3, "minExtent": 0}},
                    "x2": {"field": "hi"},
                    "y": {"field": "pct", "type": "quantitative", "scale": {"domain": [0, 20.2], "nice": false, "zero": false}, "axis": null},
                    "y2": {"datum": 0}}},
      {"data": {"name": "c"}, "transform": [{"filter": "datum.tap == 'Tap Down'"}],
       "mark": {"type": "bar", "color": "#6495ed", "opacity": 0.7},
       "encoding": {"x": {"field": "lo", "type": "quantitative", "scale": {"domain": [6983.6, 7314.7], "nice": false, "zero": false}, "axis": {"values": [7000, 7100, 7200, 7300], "format": "d", "labelFontSize": 15, "labelPadding": 4, "grid": true, "title": "Voltage mag. pre-event", "titleFontSize": 17, "titlePadding": 3, "minExtent": 0}},
                    "x2": {"field": "hi"},
                    "y": {"field": "pct", "type": "quantitative", "scale": {"domain": [0, 20.2], "nice": false, "zero": false}, "axis": null},
                    "y2": {"datum": 0}}},
      {"data": {"values": [{"lo": 6996.8, "pct": 1.73, "label": "(c)"}]},
       "mark": {"type": "text", "font": "Open Sans", "fontSize": 21, "color": "#111111", "align": "left", "baseline": "middle"},
       "encoding": {"x": {"field": "lo", "type": "quantitative", "scale": {"domain": [6983.6, 7314.7], "nice": false, "zero": false}, "axis": {"values": [7000, 7100, 7200, 7300], "format": "d", "labelFontSize": 15, "labelPadding": 4, "grid": true, "title": "Voltage mag. pre-event", "titleFontSize": 17, "titlePadding": 3, "minExtent": 0}},
                    "y": {"field": "pct", "type": "quantitative", "scale": {"domain": [0, 20.2], "nice": false, "zero": false}, "axis": null},
                    "text": {"field": "label"}}}
     ]
    },
    {
     "width": 275, "height": 249,
     "layer": [
      {"data": {"name": "d"}, "transform": [{"filter": "datum.tap == 'Tap Up'"}],
       "mark": {"type": "bar", "color": "#3cb371", "opacity": 0.7},
       "encoding": {"x": {"field": "lo", "type": "quantitative", "scale": {"domain": [0.448, 1.527], "nice": false, "zero": false}, "axis": {"values": [0.6, 0.8, 1.0, 1.2, 1.4], "format": ".1f", "labelFontSize": 15, "labelPadding": 4, "grid": true, "title": "Voltage mag. % change", "titleFontSize": 17, "titlePadding": 3, "minExtent": 0}},
                    "x2": {"field": "hi"},
                    "y": {"field": "pct", "type": "quantitative", "scale": {"domain": [0, 16.8], "nice": false, "zero": false}, "axis": null},
                    "y2": {"datum": 0}}},
      {"data": {"name": "d"}, "transform": [{"filter": "datum.tap == 'Tap Down'"}],
       "mark": {"type": "bar", "color": "#6495ed", "opacity": 0.7},
       "encoding": {"x": {"field": "lo", "type": "quantitative", "scale": {"domain": [0.448, 1.527], "nice": false, "zero": false}, "axis": {"values": [0.6, 0.8, 1.0, 1.2, 1.4], "format": ".1f", "labelFontSize": 15, "labelPadding": 4, "grid": true, "title": "Voltage mag. % change", "titleFontSize": 17, "titlePadding": 3, "minExtent": 0}},
                    "x2": {"field": "hi"},
                    "y": {"field": "pct", "type": "quantitative", "scale": {"domain": [0, 16.8], "nice": false, "zero": false}, "axis": null},
                    "y2": {"datum": 0}}},
      {"data": {"values": [{"lo": 1.482, "pct": 1.28, "label": "(d)"}]},
       "mark": {"type": "text", "font": "Open Sans", "fontSize": 21, "color": "#111111", "align": "right", "baseline": "middle"},
       "encoding": {"x": {"field": "lo", "type": "quantitative", "scale": {"domain": [0.448, 1.527], "nice": false, "zero": false}, "axis": {"values": [0.6, 0.8, 1.0, 1.2, 1.4], "format": ".1f", "labelFontSize": 15, "labelPadding": 4, "grid": true, "title": "Voltage mag. % change", "titleFontSize": 17, "titlePadding": 3, "minExtent": 0}},
                    "y": {"field": "pct", "type": "quantitative", "scale": {"domain": [0, 16.8], "nice": false, "zero": false}, "axis": null},
                    "text": {"field": "label"}}}
     ]
    }
   ],
   "spacing": 17
    }
   ]
  },
  {
   "hconcat": [
    {
     "width": 453, "height": 449,
     "layer": [
      {"data": {"name": "sc"},
       "mark": {"type": "circle", "size": 44, "opacity": 1},
       "encoding": {
        "x": {"field": "day", "type": "quantitative", "scale": {"domain": [0, 180], "nice": false, "zero": false}, "axis": {"title": "Day of Study", "labels": false, "ticks": false, "domain": false, "grid": false, "titleFontSize": 17, "titlePadding": 3, "minExtent": 0, "maxExtent": 0}},
        "y": {"field": "hour", "type": "quantitative", "scale": {"domain": [-0.98, 23.84], "nice": false, "zero": false}, "axis": {"title": "Hour of Day", "values": [0, 2, 4, 6, 8, 10, 12, 14, 16, 18, 20, 22], "labelFontSize": 16, "labelPadding": 9, "titleFontSize": 17, "titlePadding": 4, "grid": true, "minExtent": 30, "maxExtent": 30}},
        "color": {"field": "tap", "type": "nominal", "scale": {"domain": ["Tap Up", "Tap Down"], "range": ["#3cb371", "#6495ed"]},
                  "legend": {"orient": "none", "legendX": 10, "legendY": 6, "title": null, "fillColor": "rgba(212,212,212,0.85)", "cornerRadius": 4, "padding": 9, "labelFont": "Liberation Sans", "labelFontSize": 19, "labelColor": "#222222", "symbolType": "circle", "symbolSize": 55, "symbolOffset": 10, "labelOffset": 25, "rowPadding": 8, "symbolStrokeWidth": 0}}
       }},
      {"data": {"values": [{"day": 8.3, "hour": 0.59, "label": "(e)"}]},
       "mark": {"type": "text", "font": "Open Sans", "fontSize": 21, "color": "#111111", "align": "left", "baseline": "middle"},
       "encoding": {
        "x": {"field": "day", "type": "quantitative", "scale": {"domain": [0, 180], "nice": false, "zero": false}, "axis": {"title": "Day of Study", "labels": false, "ticks": false, "domain": false, "grid": false, "titleFontSize": 17, "titlePadding": 3, "minExtent": 0, "maxExtent": 0}},
        "y": {"field": "hour", "type": "quantitative", "scale": {"domain": [-0.98, 23.84], "nice": false, "zero": false}, "axis": {"title": "Hour of Day", "values": [0, 2, 4, 6, 8, 10, 12, 14, 16, 18, 20, 22], "labelFontSize": 16, "labelPadding": 9, "titleFontSize": 17, "titlePadding": 4, "grid": true, "minExtent": 30, "maxExtent": 30}},
        "text": {"field": "label"}
       }}
     ]
    },
    {
     "width": 127, "height": 449,
     "data": {"name": "mg"},
     "mark": {"type": "bar", "clip": true, "opacity": 0.9, "binSpacing": 0},
     "encoding": {
      "y": {"field": "lo", "type": "quantitative", "bin": {"binned": true, "step": 1}, "scale": {"domain": [-0.98, 23.84], "nice": false, "zero": false}, "axis": null},
      "y2": {"field": "hi"},
      "x": {"field": "pct", "type": "quantitative", "stack": "zero", "scale": {"domain": [0, 42.9], "nice": false}, "axis": null},
      "color": {"field": "tap", "type": "nominal", "scale": {"domain": ["Tap Up", "Tap Down"], "range": ["#3cb371", "#6495ed"]}, "legend": null},
      "order": {"field": "tap", "type": "ordinal", "sort": "ascending"}
     }
    }
   ],
   "spacing": 5,
   "resolve": {"scale": {"color": "independent"}, "legend": {"color": "independent"}}
  }
 ]
}
]
}
